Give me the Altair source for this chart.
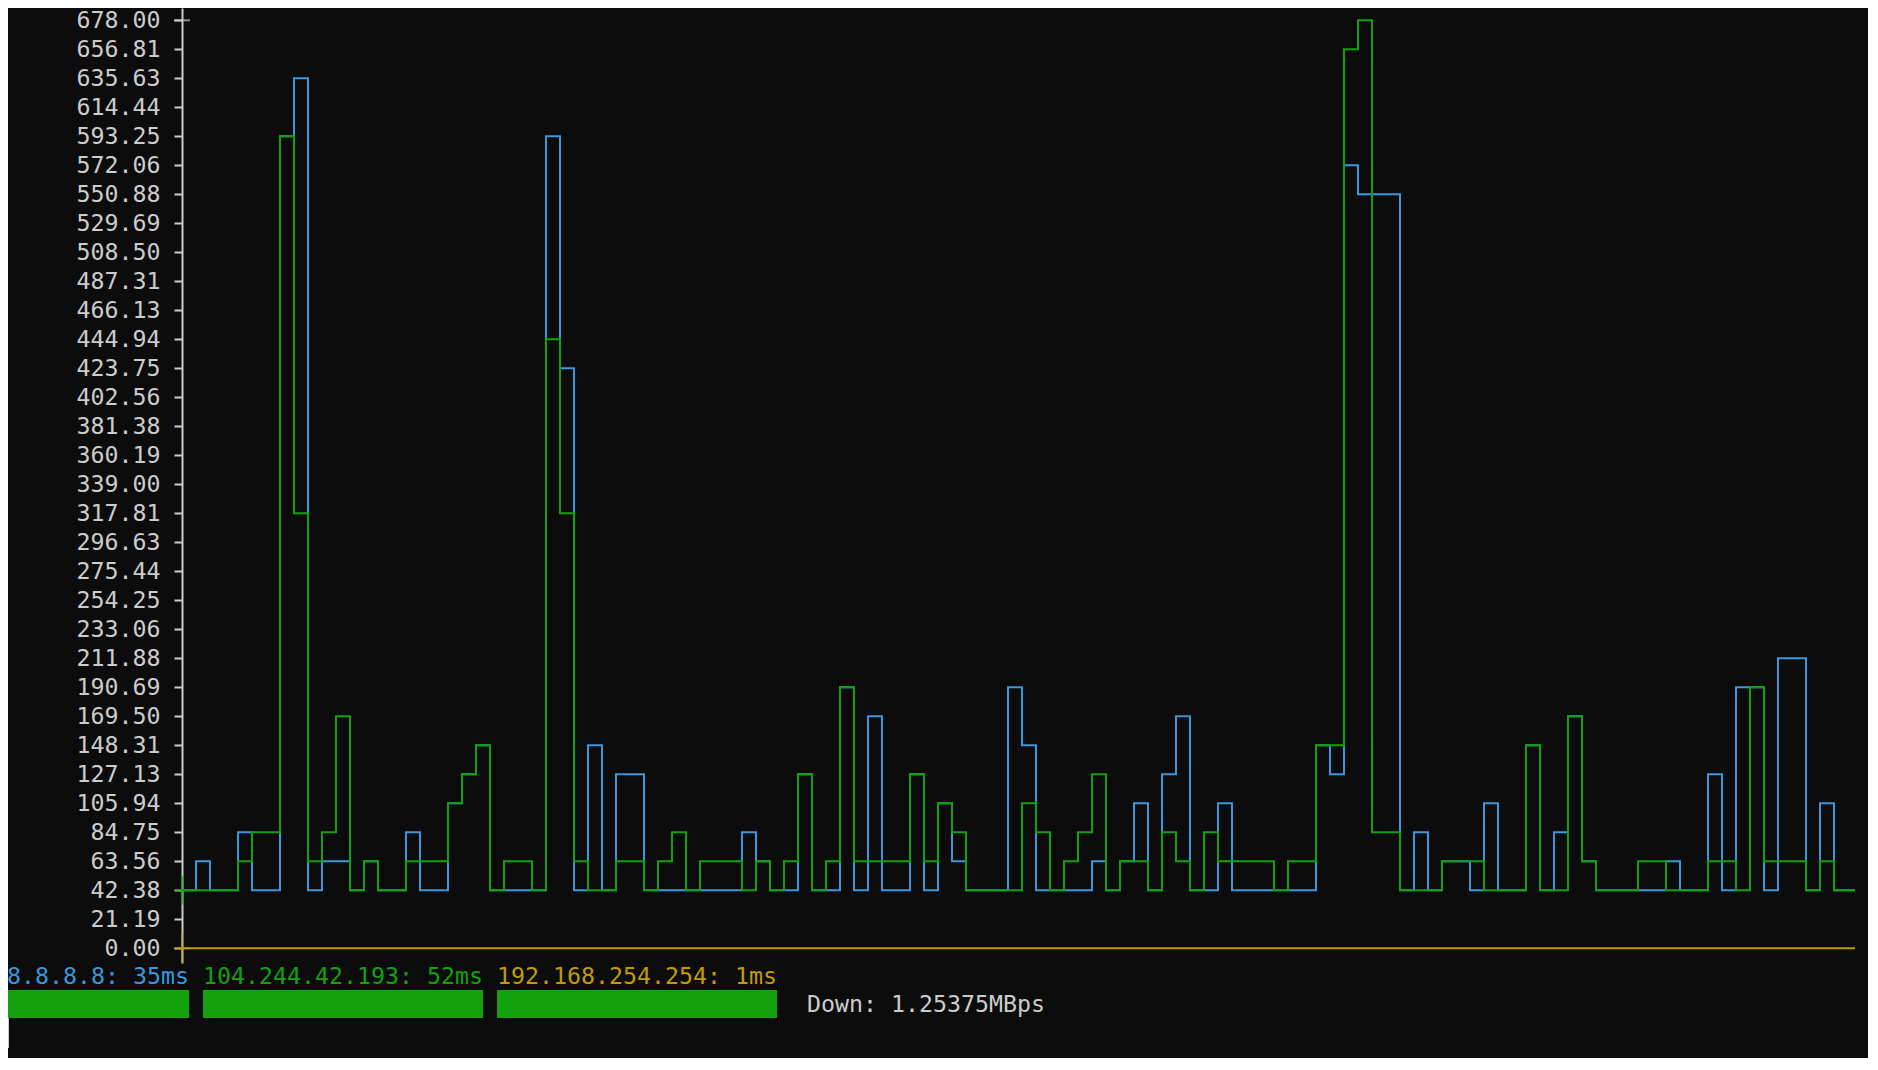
import altair as alt
import pandas as pd

# ---- palette / typography (terminal look) ----
BG = "#0c0c0c"
FG = "#cccccc"
BLUE = "#3a96dd"
GREEN = "#13a10e"
YELLOW = "#c19c00"
FONT = "DejaVu Sans Mono"
FS = 23.25
CW = 14  # character cell width in px

# ---- data ----
hosts = ["8.8.8.8", "104.244.42.193", "192.168.254.254"]
latest_ms = [35, 52, 1]
host_colors = [BLUE, GREEN, YELLOW]
download_text = "Down: 1.25375MBps"

y_ticks = [0.00, 21.19, 42.38, 63.56, 84.75, 105.94, 127.13, 148.31, 169.50,
           190.69, 211.88, 233.06, 254.25, 275.44, 296.63, 317.81, 339.00,
           360.19, 381.38, 402.56, 423.75, 444.94, 466.13, 487.31, 508.50,
           529.69, 550.88, 572.06, 593.25, 614.44, 635.63, 656.81, 678.00]

# 8.8.8.8 (blue) latency per sample, ms
blue_ms = [
    42.38, 63.56, 42.38, 42.38, 84.75, 42.38, 42.38, 593.25, 635.63, 42.38,
    63.56, 63.56, 42.38, 63.56, 42.38, 42.38, 84.75, 42.38, 42.38, 105.94,
    127.13, 148.31, 42.38, 42.38, 42.38, 42.38, 593.25, 423.75, 42.38, 148.31,
    42.38, 127.13, 127.13, 42.38, 42.38, 42.38, 42.38, 42.38, 42.38, 42.38,
    84.75, 63.56, 42.38, 42.38, 127.13, 42.38, 42.38, 190.69, 42.38, 169.50,
    42.38, 42.38, 127.13, 42.38, 105.94, 63.56, 42.38, 42.38, 42.38, 190.69,
    148.31, 42.38, 42.38, 42.38, 42.38, 63.56, 42.38, 63.56, 105.94, 42.38,
    127.13, 169.50, 42.38, 42.38, 105.94, 42.38, 42.38, 42.38, 42.38, 42.38,
    42.38, 148.31, 127.13, 572.06, 550.88, 550.88, 550.88, 42.38, 84.75, 42.38,
    63.56, 63.56, 42.38, 105.94, 42.38, 42.38, 148.31, 42.38, 84.75, 169.50,
    63.56, 42.38, 42.38, 42.38, 42.38, 42.38, 63.56, 42.38, 42.38, 127.13,
    42.38, 190.69, 190.69, 42.38, 211.88, 211.88, 42.38, 105.94, 42.38, 42.38,
]

# 104.244.42.193 (green) latency per sample, ms
green_ms = [
    42.38, 42.38, 42.38, 42.38, 63.56, 84.75, 84.75, 593.25, 317.81, 63.56,
    84.75, 169.50, 42.38, 63.56, 42.38, 42.38, 63.56, 63.56, 63.56, 105.94,
    127.13, 148.31, 42.38, 63.56, 63.56, 42.38, 444.94, 317.81, 63.56, 42.38,
    42.38, 63.56, 63.56, 42.38, 63.56, 84.75, 42.38, 63.56, 63.56, 63.56,
    42.38, 63.56, 42.38, 63.56, 127.13, 42.38, 63.56, 190.69, 63.56, 63.56,
    63.56, 63.56, 127.13, 63.56, 105.94, 84.75, 42.38, 42.38, 42.38, 42.38,
    105.94, 84.75, 42.38, 63.56, 84.75, 127.13, 42.38, 63.56, 63.56, 42.38,
    84.75, 63.56, 42.38, 84.75, 63.56, 63.56, 63.56, 63.56, 42.38, 63.56,
    63.56, 148.31, 148.31, 656.81, 678.00, 84.75, 84.75, 42.38, 42.38, 42.38,
    63.56, 63.56, 63.56, 42.38, 42.38, 42.38, 148.31, 42.38, 42.38, 169.50,
    63.56, 42.38, 42.38, 42.38, 63.56, 63.56, 42.38, 42.38, 42.38, 63.56,
    63.56, 42.38, 190.69, 63.56, 63.56, 63.56, 42.38, 63.56, 42.38, 42.38,
]

# 192.168.254.254 (yellow) latency per sample, ms (drawn on the 0.00 row)
yellow_ms = [
    0, 0, 0, 0, 0, 0, 0, 0, 0, 0, 0, 0, 0, 0, 0, 0, 0, 0, 0, 0,
    0, 0, 0, 0, 0, 0, 0, 0, 0, 0, 0, 0, 0, 0, 0, 0, 0, 0, 0, 0,
    0, 0, 0, 0, 0, 0, 0, 0, 0, 0, 0, 0, 0, 0, 0, 0, 0, 0, 0, 0,
    0, 0, 0, 0, 0, 0, 0, 0, 0, 0, 0, 0, 0, 0, 0, 0, 0, 0, 0, 0,
    0, 0, 0, 0, 0, 0, 0, 0, 0, 0, 0, 0, 0, 0, 0, 0, 0, 0, 0, 0,
    0, 0, 0, 0, 0, 0, 0, 0, 0, 0, 0, 0, 0, 0, 0, 0, 0, 0, 0, 0,
]

N = len(green_ms)


def series_df(vals):
    xs = list(range(len(vals))) + [len(vals) - 0.5]
    ys = list(vals) + [vals[-1]]
    return pd.DataFrame({"col": xs, "ms": ys})


# ---- layout ----
W, H = CW * (N - 0.5), 955
PAD = {"left": 174, "top": 0, "right": 13, "bottom": 95}
LEFT_TEXT = 7 - 182  # page x=7 relative to plot origin

xs = alt.X("col:Q", scale=alt.Scale(domain=[0, N - 0.5], nice=False, zero=False), axis=None)
ys = alt.Y(
    "ms:Q",
    scale=alt.Scale(domain=[-10.74, 686.99], nice=False, zero=False),
    axis=alt.Axis(
        values=y_ticks, format=".2f", title=None, grid=False,
        labelFont=FONT, labelFontSize=FS, labelColor=FG, labelPadding=14,
        labelOverlap=False, labelFlush=False,
        tickColor=FG, tickSize=8, tickWidth=2,
        domainColor=FG, domainWidth=2,
    ),
)


def line(vals, color):
    return alt.Chart(series_df(vals)).mark_line(
        interpolate="step-after", color=color, strokeWidth=2
    ).encode(x=xs, y=ys)


layers = [line(blue_ms, BLUE), line(green_ms, GREEN), line(yellow_ms, YELLOW)]

# series-coloured crossings on the axis (first samples) and top cross
cross_df = pd.DataFrame({
    "col": [0, 0],
    "ms": [green_ms[0], yellow_ms[0]],
    "c": [GREEN, YELLOW],
})
layers.append(alt.Chart(cross_df).mark_tick(orient="vertical", size=29, thickness=2)
              .encode(x=xs, y=ys, color=alt.Color("c:N", scale=None)))
layers.append(alt.Chart(cross_df).mark_tick(orient="horizontal", size=16, thickness=2)
              .encode(x=xs, y=ys, color=alt.Color("c:N", scale=None)))
top_df = pd.DataFrame({"col": [0], "ms": [y_ticks[-1]]})
layers.append(alt.Chart(top_df).mark_tick(orient="horizontal", size=16, thickness=2, color=FG)
              .encode(x=xs, y=ys))

# legend line: host labels + status bars
offset = 0
for h, ms, c in zip(hosts, latest_ms, host_colors):
    label = f"{h}: {ms}ms"
    x0 = LEFT_TEXT + offset * CW
    d = pd.DataFrame({"t": [label]})
    layers.append(alt.Chart(d).mark_text(
        align="left", baseline="middle", font=FONT, fontSize=FS, color=c
    ).encode(x=alt.value(x0), y=alt.value(969), text="t:N"))
    layers.append(alt.Chart(d).mark_rect(color=GREEN).encode(
        x=alt.value(x0), x2=alt.value(x0 + len(label) * CW),
        y=alt.value(982), y2=alt.value(1010)))
    offset += len(label) + 1

layers.append(alt.Chart(pd.DataFrame({"t": [download_text]})).mark_text(
    align="left", baseline="middle", font=FONT, fontSize=FS, color=FG
).encode(x=alt.value(LEFT_TEXT + 57 * CW + 2), y=alt.value(997), text="t:N"))

# terminal cursor
layers.append(alt.Chart(pd.DataFrame({"t": [""]})).mark_rule(color=FG, strokeWidth=1).encode(
    x=alt.value(-173.5), y=alt.value(1010), y2=alt.value(1040)))

chart = alt.layer(*layers).properties(
    width=W, height=H, padding=PAD,
    autosize=alt.AutoSizeParams(type="none"),
    background=BG,
).configure_view(strokeWidth=0)

chart.save("out.html", embed_options={"renderer": "svg", "actions": False})
